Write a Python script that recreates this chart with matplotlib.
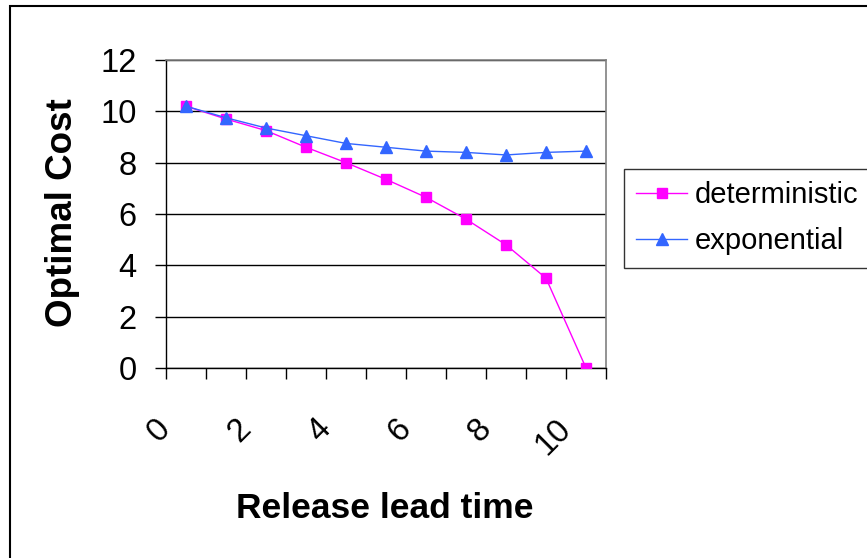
import matplotlib
matplotlib.use("Agg")
import matplotlib.pyplot as plt
import matplotlib.transforms as mtransforms
from matplotlib.patches import Rectangle

categories = [0, 1, 2, 3, 4, 5, 6, 7, 8, 9, 10]
tick_labels = ["0", "2", "4", "6", "8", "10"]
deterministic = [10.2, 9.7, 9.25, 8.6, 8.0, 7.35, 6.65, 5.8, 4.8, 3.5, 0.0]
exponential = [10.2, 9.75, 9.35, 9.05, 8.75, 8.6, 8.45, 8.4, 8.3, 8.4, 8.45]

plt.rcParams['font.family'] = ['Liberation Sans', 'DejaVu Sans']

W, H = 867, 558
fig = plt.figure(figsize=(W / 100, H / 100), dpi=100)
ax = fig.add_axes([166 / W, 1 - 368 / H, (606 - 166) / W, (368 - 60) / H])

ax.plot(categories, deterministic, color='#FF00FF', lw=1.0, marker='s', ms=7.2,
        mec='#FF00FF', mfc='#FF00FF', label='deterministic', zorder=3)
ax.plot(categories, exponential, color='#3366FF', lw=1.0, marker='^', ms=8,
        mec='#3366FF', mfc='#3366FF', label='exponential', zorder=4)

ax.set_xlim(-0.5, 10.5)
ax.set_ylim(0, 12)
ax.set_yticks(range(0, 13, 2))
ax.set_yticklabels([str(v) for v in range(0, 13, 2)], fontsize=23.5)
ax.tick_params(axis='y', direction='out', length=8, width=1, pad=13, color='black')
ax.set_xticks([c - 0.5 for c in categories] + [10.5])
ax.set_xticklabels([])
ax.tick_params(axis='x', direction='out', length=8, width=1, color='black')

ax.yaxis.grid(True, color='black', lw=1)
ax.set_axisbelow(True)
for s in ['top', 'right']:
    ax.spines[s].set_color('#808080')
    ax.spines[s].set_linewidth(1.2)
for s in ['left', 'bottom']:
    ax.spines[s].set_color('black')
    ax.spines[s].set_linewidth(1.0)

trans = mtransforms.blended_transform_factory(ax.transData, fig.transFigure)
for lab in tick_labels:
    v = int(lab)
    ax.text(v - 0.5, 1 - 424 / H, lab, transform=trans, fontsize=23.5,
            rotation=45, rotation_mode='anchor', ha='right', va='center')

fig.text(385 / W, 1 - 518 / H, 'Release lead time', fontsize=25.5,
         fontweight='bold', ha='center', va='baseline')
fig.text(63 / W, 1 - 213 / H, 'Optimal Cost', fontsize=26.5, fontweight='bold',
         rotation=90, ha='center', va='center')

leg = fig.legend(loc='upper left', bbox_to_anchor=(624 / W, 1 - 169 / H),
                 fontsize=21, frameon=True, fancybox=False, shadow=False,
                 handlelength=1.75, handletextpad=0.25, labelspacing=0.62,
                 borderpad=0.42, borderaxespad=0)
leg.get_frame().set_edgecolor('black')
leg.get_frame().set_linewidth(1.0)

fig.patches.append(Rectangle((10 / W, -0.5), 2, 0.5 + 1 - 6 / H,
                             transform=fig.transFigure, fill=False,
                             edgecolor='black', lw=1.5))

fig.savefig('out.png', dpi=100)
